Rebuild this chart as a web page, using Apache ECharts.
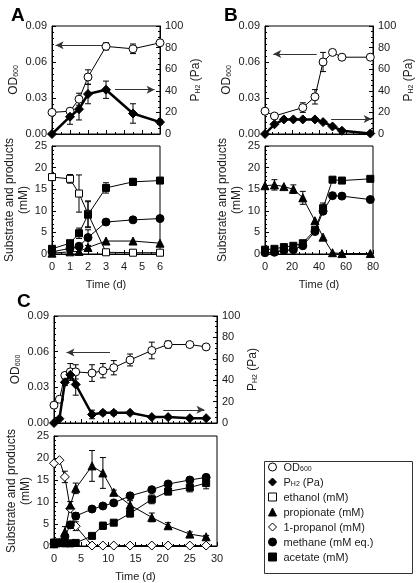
<!DOCTYPE html>
<html><head><meta charset="utf-8">
<script src="https://cdn.jsdelivr.net/npm/echarts@6/dist/echarts.min.js"></script>
<style>html,body{margin:0;padding:0;background:#fff}#c{width:416px;height:583px}</style>
</head><body><div id="c"></div>
<script>
// ---------- Panel A ----------
const A_time = [0, 1, 1.5, 2, 3, 4.5, 6];
const A_od = [0.018, 0.019, 0.029, 0.0475, 0.073, 0.071, 0.076];
const A_odErr = [0, 0.002, 0.005, 0.006, 0.003, 0.004, 0.002];
const A_ph2 = [0, 16, 23, 37, 41, 19, 11];
const A_ph2Err = [0, 7, 10, 9, 8, 9, 2];
const A_ethanol = [17.8, 17.4, 14.0, 9.3, 0.4, 0.3, 0.3];
const A_ethanolErr = [0, 1, 4.3, 3, 0, 0, 0];
const A_propionate = [0.2, 0.5, 0.6, 1.5, 3.0, 3.0, 2.5];
const A_methane = [0.5, 1.3, 1.8, 3.8, 7.4, 7.9, 8.2];
const A_methaneErr = [0, 0, 0.3, 1.8, 0, 0, 0];
const A_acetate = [1.2, 2.5, 4.8, 9.1, 15.3, 16.7, 17.0];
const A_acetateErr = [0, 0, 1.2, 3, 1.2, 0.8, 0.3];
const A_odArrow = [2.8, 0.2, 0.074];   // from x, to x, at OD
const A_ph2Arrow = [3.5, 5.7, 41];     // from x, to x, at Pa

// ---------- Panel B ----------
const B_odTime = [0, 7, 28, 37, 43, 50, 57, 78];
const B_od = [0.019, 0.015, 0.022, 0.031, 0.060, 0.068, 0.064, 0.064];
const B_odErr = [0, 0, 0.004, 0.006, 0.008, 0.002, 0.001, 0.001];
const B_time = [0, 7, 14, 21, 28, 37, 43, 50, 57, 78];
const B_ph2 = [0, 9, 13.5, 13.5, 13.5, 13.5, 11, 7, 3, 0.5];
const B_propionate = [15.8, 16.0, 15.6, 15.0, 13.0, 7.7, 3.9, 0.3, 0.1, 0.1];
const B_propionateErr = [0, 1.2, 0, 1, 1.5, 0, 0, 0, 0, 0];
const B_methane = [0.3, 0.4, 0.8, 1.0, 1.9, 5.2, 9.9, 13.5, 13.4, 12.6];
const B_acetate = [1.0, 1.2, 1.6, 1.9, 2.5, 5.6, 10.6, 17.2, 17.0, 17.4];
const B_acetateErr = [0, 0, 0, 0, 0, 0.5, 1.2, 0, 0, 0];
const B_odArrow = [38.3, 6.1, 0.0667];
const B_ph2Arrow = [49, 79, 13.9];

// ---------- Panel C ----------
const C_time = [0, 1, 2, 3, 4, 7, 9, 11, 14, 18, 21, 25, 28];
const C_od = [0.015, 0.020, 0.040, 0.043, 0.043, 0.042, 0.044, 0.0465, 0.053, 0.061, 0.066, 0.066, 0.064];
const C_odErr = [0, 0, 0, 0.007, 0.006, 0.007, 0.006, 0.006, 0.005, 0.007, 0.003, 0.002, 0.002];
const C_ph2 = [0, 4, 38, 45, 36, 8, 9.5, 9.5, 9.5, 5.5, 5.5, 4.5, 4.5];
const C_ph2Err = [0, 1, 3, 5, 10, 4, 2, 2, 0, 0, 0, 0, 0];
const C_propanol = [18.8, 19.5, 15.7, 8.5, 4.5, 0.1, 0.1, 0.1, 0.1, 0.1, 0.1, 0.1, 0.1];
const C_propanolErr = [0, 0, 1.3, 0, 1, 0, 0, 0, 0, 0, 0, 0, 0];
const C_propionate = [0.5, 0.8, 3.2, 9.3, 13.1, 18.2, 16.6, 12.2, 9.3, 6.5, 4.6, 2.7, 2.1];
const C_propionateErr = [0, 0, 1.2, 0.8, 1.2, 3.5, 3.5, 0.5, 1, 1, 0.7, 0.5, 0.3];
const C_methane = [0.5, 0.7, 2.1, 4.8, 6.8, 8.4, 9.1, 9.8, 11.4, 12.8, 14.1, 15.0, 15.6];
const C_methaneErr = [0, 0, 0, 0.8, 0.8, 0, 0, 0, 0, 0, 0, 0, 0.5];
const C_acetate = [0.8, 0.8, 0.6, 0.6, 0.7, 2.3, 4.6, 5.3, 7.4, 10.6, 12.4, 13.3, 14.3];
const C_acetateErr = [0, 0, 0, 0, 0, 0, 0.8, 0.3, 0.8, 1, 0.8, 1, 1.3];
const C_odArrow = [10.3, 2.3, 0.0593];
const C_ph2Arrow = [20.1, 27.7, 12.3];

const FONT = 'Liberation Sans, Arial, Helvetica, sans-serif';
const TXT = '#1a1a1a';

const N_OD = 'OD600', N_PH2 = 'PH2 (Pa)', N_ETH = 'ethanol (mM)', N_PROP = 'propionate (mM)',
      N_PROH = '1-propanol (mM)', N_METH = 'methane (mM eq.)', N_ACE = 'acetate (mM)';

const STY = {};
STY[N_OD]   = {symbol: 'circle', size: 8, fill: '#fff'};
STY[N_PH2]  = {symbol: 'diamond', size: 9, fill: '#000'};
STY[N_ETH]  = {symbol: 'rect', size: 7, fill: '#fff'};
STY[N_PROP] = {symbol: 'triangle', size: 8, fill: '#000'};
STY[N_PROH] = {symbol: 'diamond', size: 9, fill: '#fff'};
STY[N_METH] = {symbol: 'circle', size: 8, fill: '#000'};
STY[N_ACE]  = {symbol: 'rect', size: 7, fill: '#000'};

function zip(xs, ys) { return xs.map((x, i) => [x, ys[i]]); }

function lineSeries(name, xi, yi, xs, ys, width, arrow) {
  const s = STY[name];
  const ser = {
    type: 'line', name: name, xAxisIndex: xi, yAxisIndex: yi,
    data: zip(xs, ys), symbol: s.symbol, symbolSize: s.size, showAllSymbol: true,
    lineStyle: {color: '#000', width: width || 1},
    itemStyle: {color: s.fill, borderColor: '#000', borderWidth: 1, opacity: 1},
    z: width > 1 ? 4 : 3, silent: true
  };
  if (arrow) {
    ser.markLine = {
      silent: true, symbol: ['none', 'arrow'], symbolSize: [6, 8], precision: 4,
      lineStyle: {color: '#333', width: 1, type: 'solid'}, label: {show: false},
      data: [[{coord: [arrow[0], arrow[2]]}, {coord: [arrow[1], arrow[2]]}]]
    };
  }
  return ser;
}

function errSeries(xi, yi, xs, ys, es) {
  const data = [];
  xs.forEach((x, i) => { if (es[i] > 0) data.push([x, Math.max(0, ys[i] - es[i]), ys[i] + es[i]]); });
  return {
    type: 'custom', xAxisIndex: xi, yAxisIndex: yi, silent: true, z: 2,
    encode: {x: 0, y: [1, 2]}, data: data,
    renderItem: function (params, api) {
      const x = api.value(0);
      const p1 = api.coord([x, api.value(2)]);
      const p2 = api.coord([x, api.value(1)]);
      const w = 3, st = {stroke: '#000', lineWidth: 1};
      return {type: 'group', children: [
        {type: 'line', shape: {x1: p1[0], y1: p1[1], x2: p2[0], y2: p2[1]}, style: st},
        {type: 'line', shape: {x1: p1[0] - w, y1: p1[1], x2: p1[0] + w, y2: p1[1]}, style: st},
        {type: 'line', shape: {x1: p2[0] - w, y1: p2[1], x2: p2[0] + w, y2: p2[1]}, style: st}
      ]};
    }
  };
}

const RICH = {
  a: {fontFamily: FONT, fontSize: 12, color: TXT, lineHeight: 14, verticalAlign: 'bottom'},
  s: {fontFamily: FONT, fontSize: 7, color: TXT, lineHeight: 7, verticalAlign: 'bottom'}
};

function xAxis(grid, min, max, interval, minorSplit, showLabels) {
  return {
    type: 'value', gridIndex: grid, min: min, max: max, interval: interval,
    axisLine: {show: true, lineStyle: {color: '#000', width: 1}},
    axisTick: {show: true, inside: true, length: 4, lineStyle: {color: '#000'}},
    minorTick: {show: minorSplit > 1, splitNumber: minorSplit, length: 2, lineStyle: {color: '#000'}},
    splitLine: {show: false},
    axisLabel: {show: showLabels, fontFamily: FONT, fontSize: 11, color: TXT, margin: 7},
    name: showLabels ? 'Time (d)' : '', nameLocation: 'middle', nameGap: 25,
    nameTextStyle: {fontFamily: FONT, fontSize: 11, color: TXT}
  };
}

function yAxis(grid, pos, min, max, interval, minorSplit, fmt, name, gap) {
  return {
    type: 'value', gridIndex: grid, position: pos, min: min, max: max, interval: interval,
    axisLine: {show: true, lineStyle: {color: '#000', width: 1}},
    axisTick: {show: true, inside: true, length: 4, lineStyle: {color: '#000'}},
    minorTick: {show: true, splitNumber: minorSplit, length: 2, lineStyle: {color: '#000'}},
    splitLine: {show: false},
    axisLabel: {fontFamily: FONT, fontSize: 11, color: TXT, margin: 5, formatter: fmt},
    name: name, nameLocation: 'middle', nameGap: gap, nameRotate: 90,
    nameTextStyle: {fontFamily: FONT, fontSize: 12, color: TXT, align: 'center', lineHeight: 14, rich: RICH}
  };
}

const odFmt = v => v.toFixed(2);
const intFmt = v => String(Math.round(v));
const OD_NAME = '{a|OD}{s|600}';
const PH2_NAME = '{a|P}{s|H2}{a| (Pa)}';
const SUB_NAME = 'Substrate and products\n(mM)';

const grids = [
  {left: 52, top: 26, width: 108, height: 108},
  {left: 52, top: 146, width: 108, height: 108},
  {left: 265, top: 26, width: 108, height: 108},
  {left: 265, top: 146, width: 108, height: 108},
  {left: 54, top: 316, width: 163, height: 107},
  {left: 54, top: 436, width: 163, height: 110}
].map(g => Object.assign({show: true, borderColor: '#000', borderWidth: 1, backgroundColor: 'transparent'}, g));

const xAxes = [
  xAxis(0, 0, 6, 1, 2, false),
  xAxis(1, 0, 6, 1, 2, true),
  xAxis(2, 0, 80, 20, 4, false),
  xAxis(3, 0, 80, 20, 4, true),
  xAxis(4, 0, 30, 5, 5, false),
  xAxis(5, 0, 30, 5, 5, true)
];

const yAxes = [
  yAxis(0, 'left', 0, 0.09, 0.03, 6, odFmt, OD_NAME, 32),
  yAxis(0, 'right', 0, 100, 20, 4, intFmt, PH2_NAME, 16),
  yAxis(1, 'left', 0, 25, 5, 5, intFmt, SUB_NAME, 15),
  yAxis(2, 'left', 0, 0.09, 0.03, 6, odFmt, OD_NAME, 32),
  yAxis(2, 'right', 0, 100, 20, 4, intFmt, PH2_NAME, 16),
  yAxis(3, 'left', 0, 25, 5, 5, intFmt, SUB_NAME, 15),
  yAxis(4, 'left', 0, 0.09, 0.03, 6, odFmt, OD_NAME, 32),
  yAxis(4, 'right', 0, 100, 20, 4, intFmt, PH2_NAME, 16),
  yAxis(5, 'left', 0, 25, 5, 5, intFmt, SUB_NAME, 15)
];

const series = [
  // A top
  errSeries(0, 0, A_time, A_od, A_odErr),
  errSeries(0, 1, A_time, A_ph2, A_ph2Err),
  lineSeries(N_OD, 0, 0, A_time, A_od, 1, A_odArrow),
  lineSeries(N_PH2, 0, 1, A_time, A_ph2, 2.5, A_ph2Arrow),
  // A bottom
  errSeries(1, 2, A_time, A_ethanol, A_ethanolErr),
  errSeries(1, 2, A_time, A_methane, A_methaneErr),
  errSeries(1, 2, A_time, A_acetate, A_acetateErr),
  lineSeries(N_ETH, 1, 2, A_time, A_ethanol, 1),
  lineSeries(N_PROP, 1, 2, A_time, A_propionate, 1),
  lineSeries(N_METH, 1, 2, A_time, A_methane, 1),
  lineSeries(N_ACE, 1, 2, A_time, A_acetate, 1),
  // B top
  errSeries(2, 3, B_odTime, B_od, B_odErr),
  lineSeries(N_OD, 2, 3, B_odTime, B_od, 1, B_odArrow),
  lineSeries(N_PH2, 2, 4, B_time, B_ph2, 2.5, B_ph2Arrow),
  // B bottom
  errSeries(3, 5, B_time, B_propionate, B_propionateErr),
  errSeries(3, 5, B_time, B_acetate, B_acetateErr),
  lineSeries(N_PROP, 3, 5, B_time, B_propionate, 1),
  lineSeries(N_METH, 3, 5, B_time, B_methane, 1),
  lineSeries(N_ACE, 3, 5, B_time, B_acetate, 1),
  // C top
  errSeries(4, 6, C_time, C_od, C_odErr),
  errSeries(4, 7, C_time, C_ph2, C_ph2Err),
  lineSeries(N_OD, 4, 6, C_time, C_od, 1, C_odArrow),
  lineSeries(N_PH2, 4, 7, C_time, C_ph2, 2.5, C_ph2Arrow),
  // C bottom
  errSeries(5, 8, C_time, C_propanol, C_propanolErr),
  errSeries(5, 8, C_time, C_propionate, C_propionateErr),
  errSeries(5, 8, C_time, C_methane, C_methaneErr),
  errSeries(5, 8, C_time, C_acetate, C_acetateErr),
  lineSeries(N_PROH, 5, 8, C_time, C_propanol, 1),
  lineSeries(N_PROP, 5, 8, C_time, C_propionate, 1),
  lineSeries(N_METH, 5, 8, C_time, C_methane, 1),
  lineSeries(N_ACE, 5, 8, C_time, C_acetate, 1)
];

const LEG_ORDER = [N_OD, N_PH2, N_ETH, N_PROP, N_PROH, N_METH, N_ACE];

const chart = echarts.init(document.getElementById('c'), null, {renderer: 'canvas'});
chart.setOption({
  animation: false,
  backgroundColor: '#fff',
  title: [
    {text: 'A', left: 6, top: 1, textStyle: {fontFamily: FONT, fontSize: 19, fontWeight: 'bold', color: '#000'}},
    {text: 'B', left: 219, top: 1, textStyle: {fontFamily: FONT, fontSize: 19, fontWeight: 'bold', color: '#000'}},
    {text: 'C', left: 12, top: 287, textStyle: {fontFamily: FONT, fontSize: 19, fontWeight: 'bold', color: '#000'}}
  ],
  graphic: [{type: 'rect', left: 262, top: 459, shape: {width: 148, height: 112},
    style: {fill: 'none', stroke: '#333', lineWidth: 1}, silent: true}],
  legend: {
    orient: 'vertical', left: 268, top: 462, itemWidth: 8, itemHeight: 8, itemGap: 4,
    selectedMode: false, padding: 0,
    data: LEG_ORDER.map(n => ({
      name: n, icon: STY[n].symbol,
      itemStyle: {color: STY[n].fill, borderColor: '#000', borderWidth: 1}
    })),
    formatter: function (n) {
      if (n === N_OD) return '{a|OD}{s|600}';
      if (n === N_PH2) return '{a|P}{s|H2}{a| (Pa)}';
      return '{a|' + n + '}';
    },
    textStyle: {fontFamily: FONT, fontSize: 11, color: TXT, padding: [0, 0, 0, 2],
      rich: {a: {fontFamily: FONT, fontSize: 11, color: TXT, lineHeight: 12, verticalAlign: 'bottom'},
             s: {fontFamily: FONT, fontSize: 7, color: TXT, lineHeight: 6, verticalAlign: 'bottom'}}}
  },
  grid: grids,
  xAxis: xAxes,
  yAxis: yAxes,
  series: series
});
</script>
</body></html>
